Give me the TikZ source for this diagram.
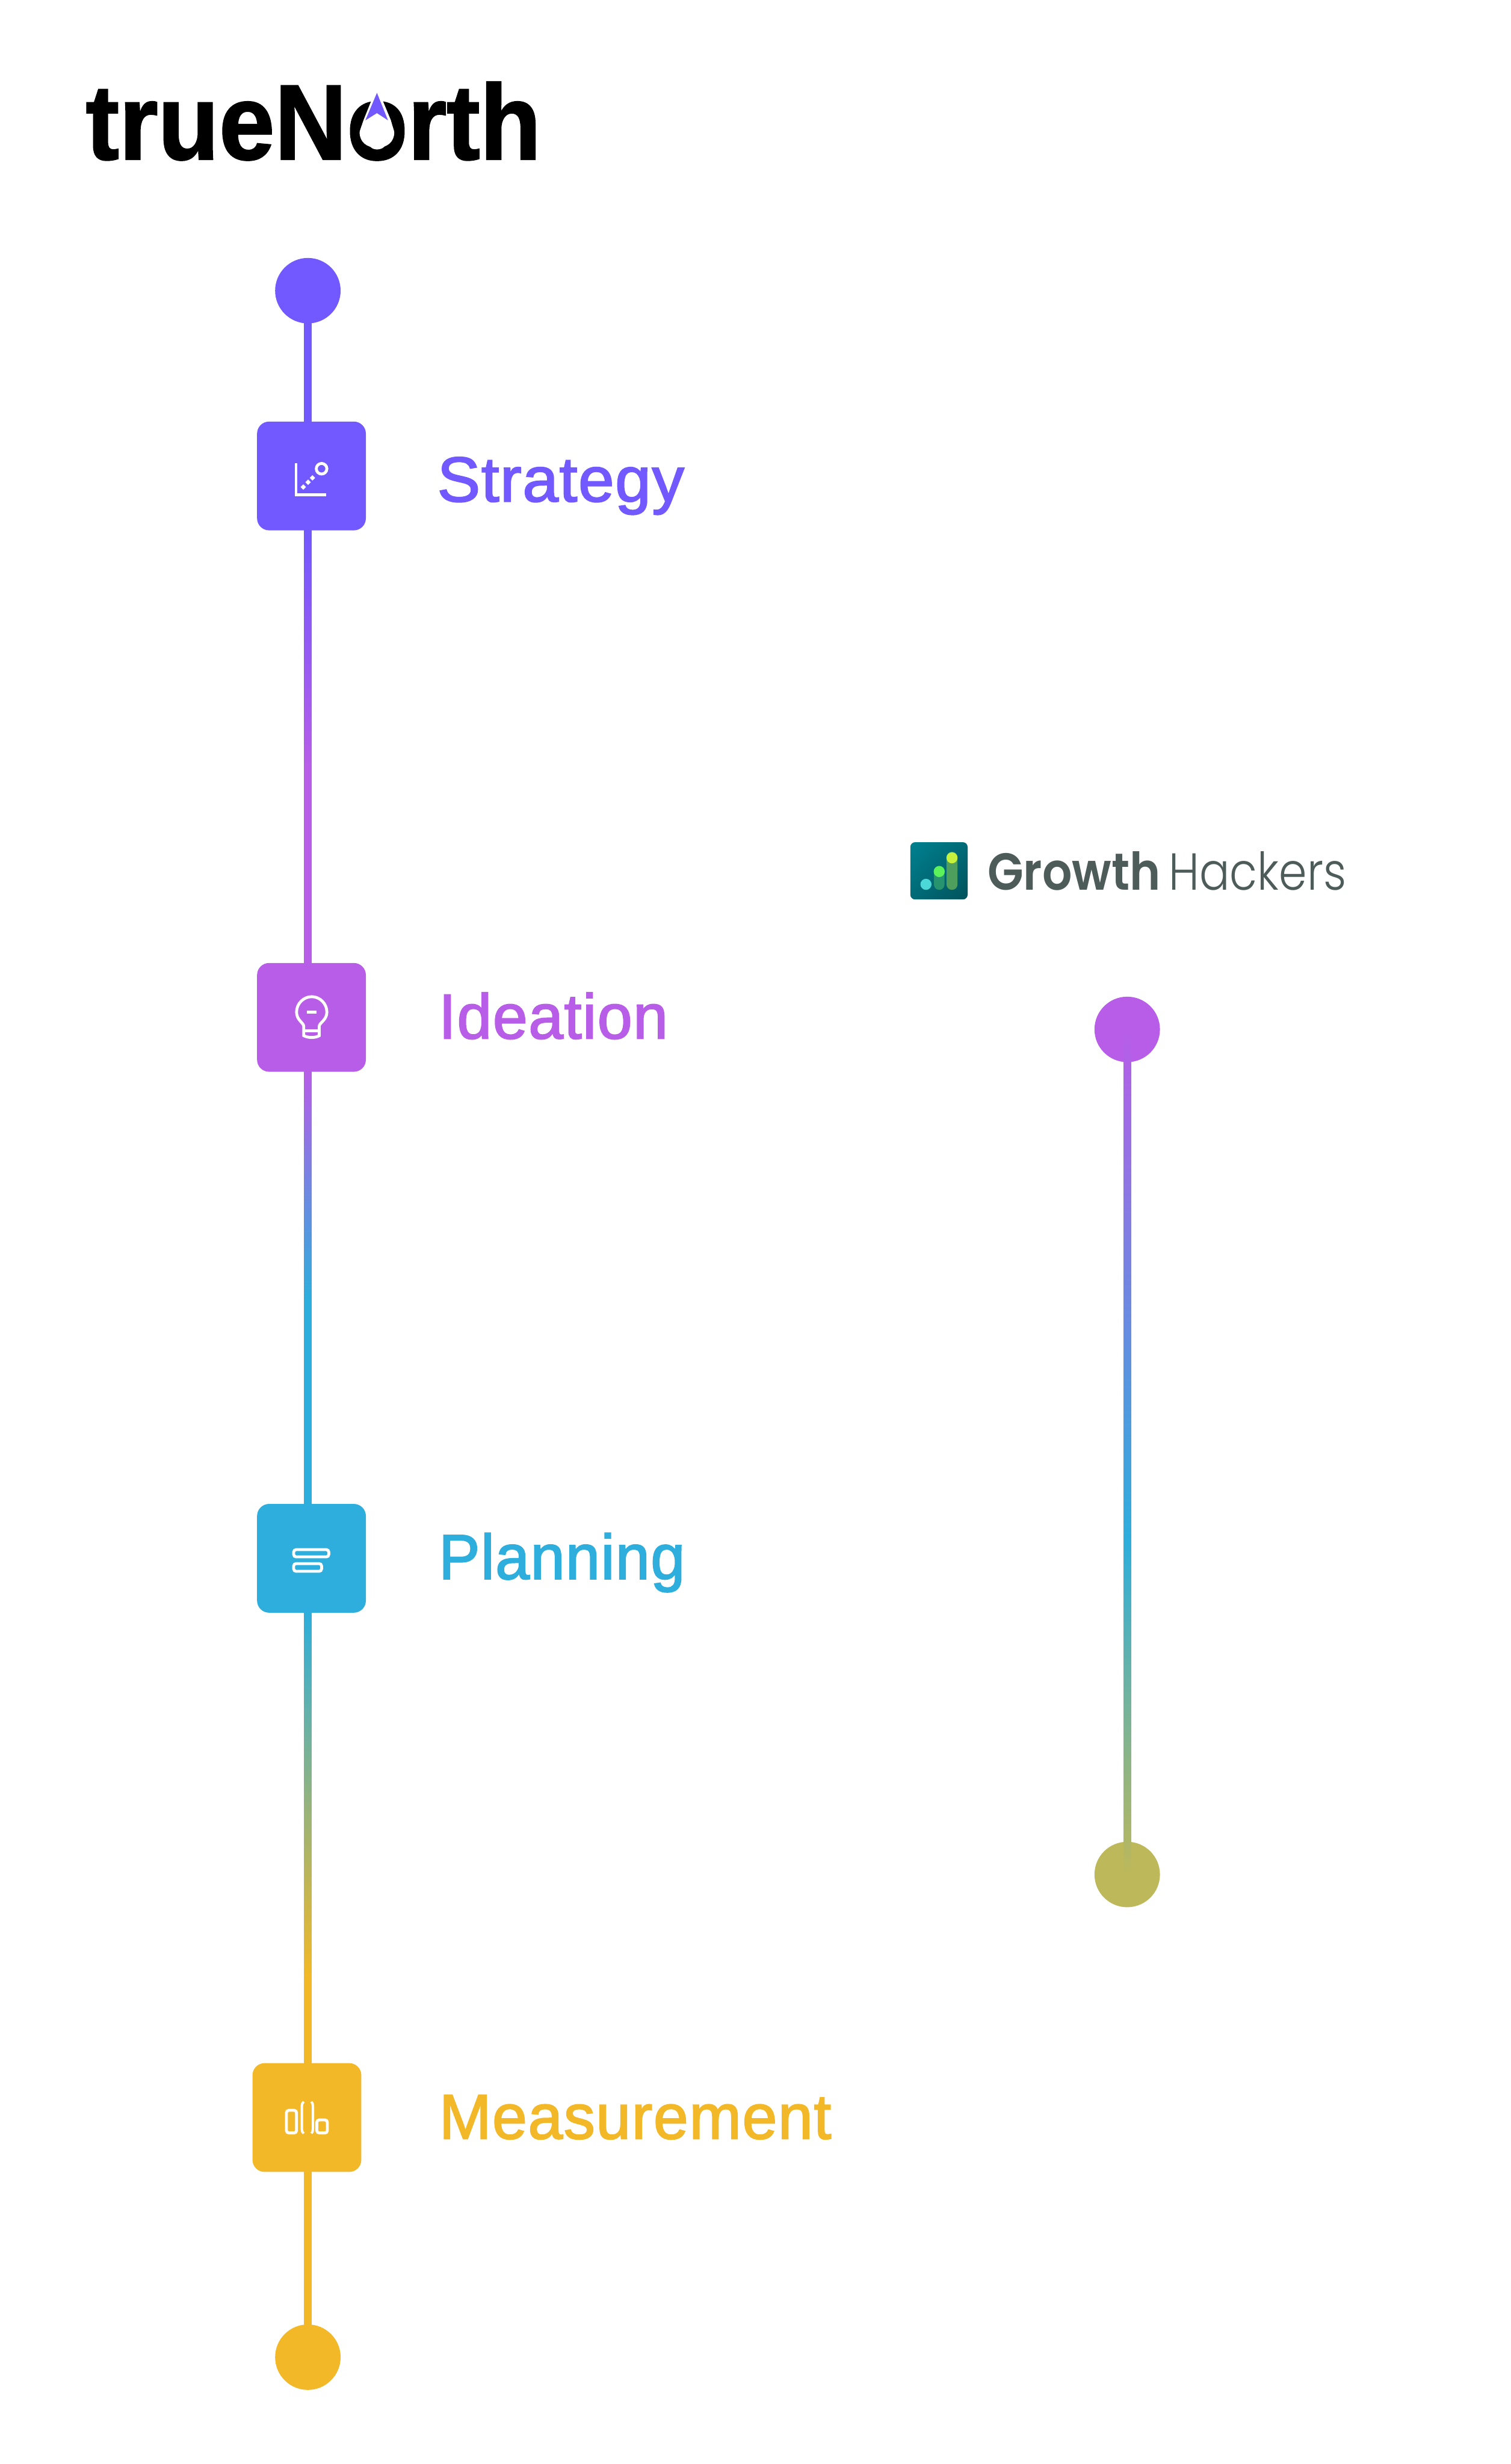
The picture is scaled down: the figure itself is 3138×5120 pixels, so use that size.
\documentclass[tikz,border=0pt]{standalone}
\usepackage{fontspec}
\setmainfont{Liberation Sans}
\newfontfamily\labfont[FakeBold=2,LetterSpace=1.5]{Liberation Sans}
\newfontfamily\logofont[FakeBold=1.5]{Liberation Sans Bold}
\newfontfamily\ghbold{Poppins SemiBold}
\newfontfamily\ghlight{Poppins Light}
\usetikzlibrary{calc,shadings}
\definecolor{cstrat}{HTML}{7158FF}
\definecolor{cidea}{HTML}{B85DE8}
\definecolor{cplan}{HTML}{2DAEDC}
\definecolor{cmeas}{HTML}{F2B827}
\definecolor{colive}{HTML}{BDB85A}
\definecolor{ghtext}{HTML}{4D5B59}
\definecolor{ghtl}{HTML}{00808F}
\definecolor{ghmid}{HTML}{006B77}
\definecolor{ghbr}{HTML}{00525B}
\definecolor{ghbarA}{HTML}{4E9E5E}
\definecolor{ghbarB}{HTML}{27946F}
\definecolor{ghdotA}{HTML}{C5F23C}
\definecolor{ghdotB}{HTML}{5CF25C}
\definecolor{ghdotC}{HTML}{4DD8D8}
\pgfdeclareverticalshading{linemain}{100bp}{color(0bp)=(cmeas); color(34.21bp)=(cmeas); color(43.02bp)=(cplan); color(50.59bp)=(cplan); color(56.10bp)=(cidea); color(63.40bp)=(cidea); color(69.20bp)=(cstrat); color(100bp)=(cstrat)}
\pgfdeclareverticalshading{lineside}{100bp}{color(0bp)=(colive); color(25bp)=(colive); color(44.79bp)=(cplan); color(75bp)=(cidea); color(100bp)=(cidea)}
\tikzset{
  stagebox/.style={rounded corners=12.5pt,minimum size=113pt,inner sep=0pt,draw=none},
  endcircle/.style={circle,minimum size=68pt,inner sep=0pt,draw=none},
  stagelabel/.style={anchor=base west,inner sep=0pt,font=\labfont\fontsize{66}{66}\selectfont},
  icon/.style={draw=white,line width=3pt,fill=none},
  flatlabel/.style={anchor=base west,inner sep=0pt,text=ghtext},
}
\begin{document}
\begin{tikzpicture}[x=0.5pt,y=-0.5pt]
\useasboundingbox[fill=white] (0,0) rectangle (3138,5120);
% end points
\node[endcircle,fill=cstrat] (c1) at (639.5,604) {};
\node[endcircle,fill=cmeas] (c2) at (639.5,4898) {};
\node[endcircle,fill=cidea] (c3) at (2341.5,2139) {};
\node[endcircle,fill=colive] (c4) at (2341.5,3895) {};
% gradient connectors
\shade[shading=linemain] ($(c1.center)+(-7.75,0)$) rectangle ($(c2.center)+(7.75,0)$);
\shade[shading=lineside] ($(c3.center)+(-7.75,0)$) rectangle ($(c4.center)+(7.75,0)$);
% boxes
\node[stagebox,fill=cstrat] (s1) at (647,989) {};
\node[stagebox,fill=cidea] (s2) at (647,2114) {};
\node[stagebox,fill=cplan] (s3) at (647,3238) {};
\node[stagebox,fill=cmeas] (s4) at (637.5,4400) {};
% labels
\node[stagelabel,text=cstrat] (l1) at (908,1042) {\scalebox{1.015}[1]{Strategy}};
\node[stagelabel,text=cidea] (l2) at (911,2158) {\scalebox{0.985}[1]{Ideation}};
\node[stagelabel,text=cplan] (l3) at (911,3281) {\scalebox{0.97}[1]{Planning}};
\node[stagelabel,text=cmeas] (l4) at (912,4444) {\scalebox{0.985}[1]{Measurement}};
% logo
\node[anchor=base west,inner sep=0pt] (logo) at (178,331) {\scalebox{0.935}[1]{\logofont\fontsize{111}{111}\selectfont trueNorth}};
\fill[white] (783,180) -- (755,250) .. controls (750,265) and (747,272) .. (747,275) .. controls (747,295) and (762,307) .. (783,307) .. controls (804,307) and (819,295) .. (819,275) .. controls (819,272) and (816,265) .. (812,250) -- cycle;
\fill[cstrat] (783,193) -- (806,250) -- (783,235) -- (759,250) -- cycle;
% strategy icon
\draw[icon] (615,963) -- (615,1028) -- (678,1028);
\draw[icon] (668,974) circle (11);
\fill[white,rotate around={45:(630,1012)}] (626,1008) rectangle (634,1016);
\fill[white,rotate around={45:(640,1002)}] (636,998) rectangle (644,1006);
\fill[white,rotate around={45:(649,993)}] (645,989) rectangle (653,997);
% bulb
\draw[icon] (631,2152) -- (631,2133) .. controls (631,2125) and (616,2120) .. (616,2103) .. controls (616,2085) and (631,2071) .. (647.5,2071) .. controls (664,2071) and (679,2085) .. (679,2103) .. controls (679,2120) and (663,2125) .. (663,2133) -- (663,2152) .. controls (655,2157) and (640,2157) .. (631,2152) -- cycle;
\draw[icon] (631,2142) -- (663,2142);
\draw[icon] (637,2103) -- (657,2103);
% planning
\draw[icon,rounded corners=2.5pt] (610,3220) rectangle (683,3235);
\draw[icon,rounded corners=2.5pt] (610,3249) rectangle (668,3265);
% measurement
\draw[icon,rounded corners=2.5pt] (595,4385) rectangle (616,4432);
\draw[icon,line width=2.5pt] (631,4367) .. controls (628,4370) and (627,4372) .. (627,4376) -- (627,4424) .. controls (627,4428) and (628,4431) .. (631,4433);
\draw[icon,line width=2.5pt] (647,4367) .. controls (649,4370) and (650,4372) .. (650,4376) -- (650,4424) .. controls (650,4428) and (649,4431) .. (647,4433);
\draw[icon,rounded corners=2.5pt] (658,4405) rectangle (680,4432);
% GrowthHackers
\shade[upper left=ghtl,lower right=ghbr,upper right=ghmid,lower left=ghmid,rounded corners=5pt] (1891,1750) rectangle (2010,1869);
\fill[ghbarA,rounded corners=5.7pt] (1966,1770) rectangle (1989,1849);
\fill[ghdotA] (1977.5,1782.5) circle (11.5);
\fill[ghbarB,rounded corners=5.5pt] (1940,1799) rectangle (1962,1849);
\fill[ghdotB] (1951,1811) circle (11.5);
\fill[ghdotC] (1923.5,1837.5) circle (11.5);
\node[flatlabel] (gh1) at (2051,1849) {\resizebox{179.5pt}{40pt}{\ghbold Growth}};
\node[flatlabel] (gh2) at (2428,1849) {\resizebox{184pt}{40pt}{\ghlight Hackers}};
\end{tikzpicture}
\end{document}
